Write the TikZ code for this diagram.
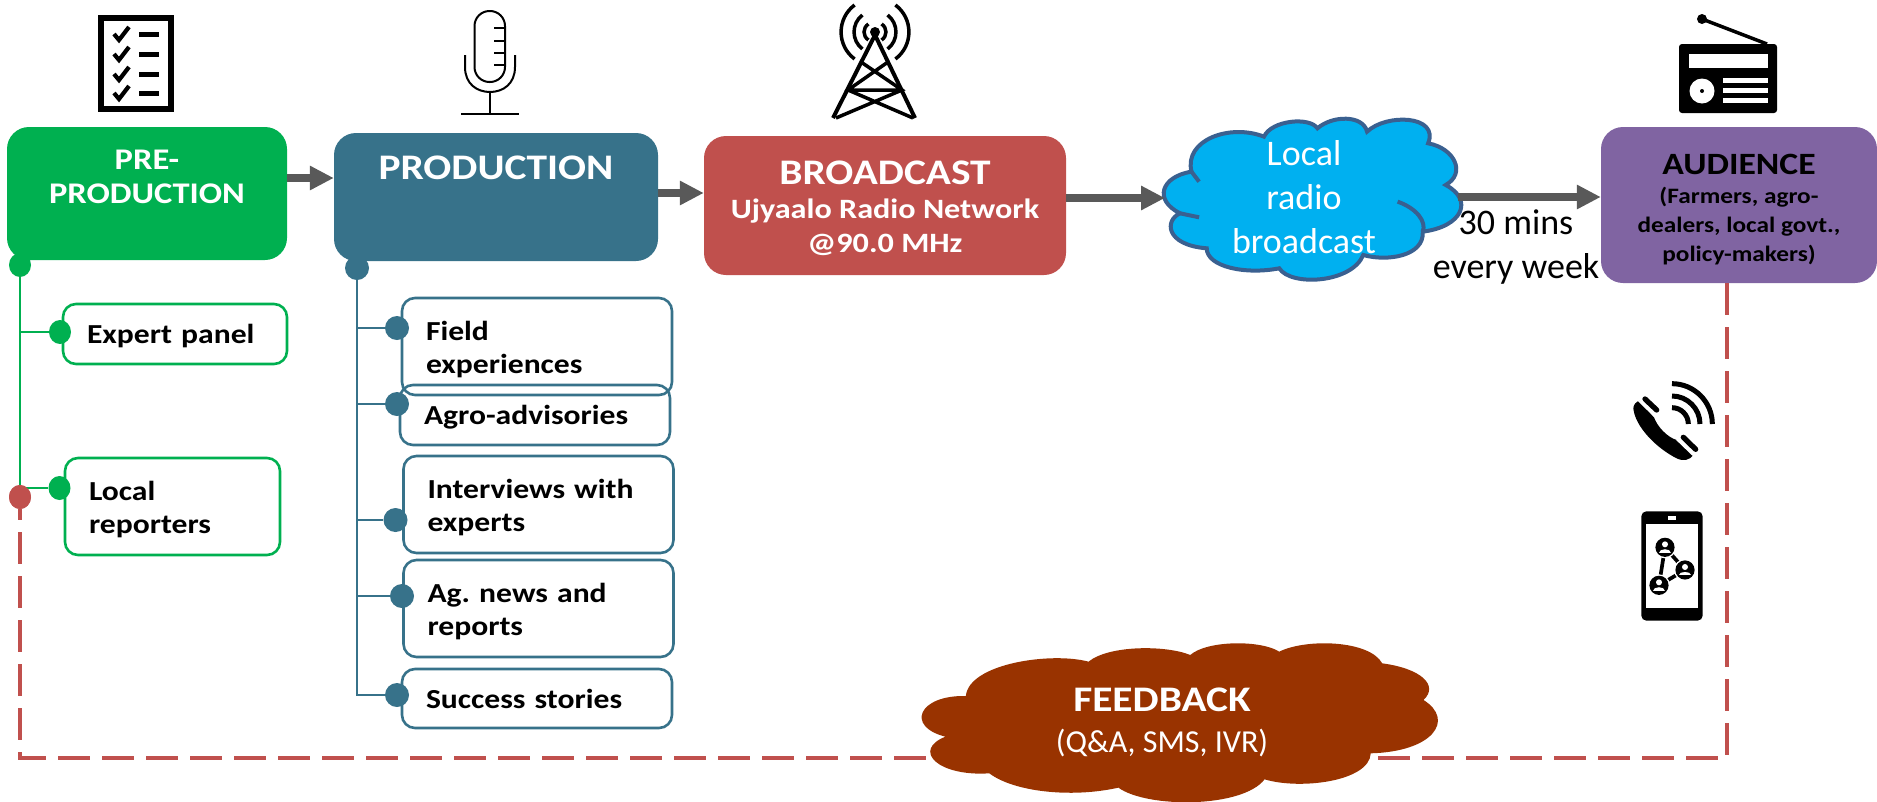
\documentclass[tikz,border=0pt]{standalone}
\usepackage{fontspec}
\usepackage{xcolor}
\usetikzlibrary{arrows.meta,shapes.geometric}
\setmainfont{Carlito}[BoldFeatures={FakeStretch=1.15}]

\definecolor{pregreen}{HTML}{00B050}
\definecolor{prodblue}{HTML}{37728A}
\definecolor{castred}{HTML}{C0504D}
\definecolor{audpurple}{HTML}{8064A2}
\definecolor{skyblue}{HTML}{00B0F0}
\definecolor{cloudedge}{HTML}{3A6090}
\definecolor{feedbrown}{HTML}{993300}
\definecolor{flowgrey}{HTML}{595959}

\tikzset{
  stagebox/.style={rectangle, rounded corners=22pt, inner sep=0pt, align=center, text=white},
  listbox/.style={rectangle, rounded corners=13pt, draw=#1, line width=2.6pt, fill=white, inner ysep=0pt, inner xsep=24pt, align=left,
    execute at end node={\vspace{-6pt}},
    font=\fontsize{27.5}{33.5}\selectfont\bfseries},
  knob/.style={ellipse, fill=#1, inner sep=0pt, minimum width=22pt, minimum height=24pt},
  flowarrow/.style={draw=flowgrey, line width=7.5pt, -{Triangle[length=24pt,width=23pt]}},
  branch/.style={draw=#1, line width=2pt},
  feedbackline/.style={draw=castred, line width=4.2pt, dash pattern=on 32pt off 12pt}
}

\begin{document}
\begin{tikzpicture}[x=1pt,y=-1pt]
  \useasboundingbox (0,0) rectangle (1877,801);

  % Cajas principales
  \node (pre) at (147,193.5) [stagebox, fill=pregreen, minimum width=280pt, minimum height=133pt,
    font=\fontsize{30}{34}\selectfont\bfseries] {PRE-\\PRODUCTION\\\mbox{}};
  \node (prod) at (496,197) [stagebox, fill=prodblue, minimum width=324pt, minimum height=128pt,
    font=\fontsize{36}{58}\selectfont\bfseries] {PRODUCTION\\\mbox{}};
  \node (cast) at (885,205.5) [stagebox, fill=castred, minimum width=362pt, minimum height=139pt,
    font=\fontsize{28}{34}\selectfont\bfseries] {{\fontsize{36}{37}\selectfont\rule{0pt}{30pt}BROADCAST}\\Ujyaalo Radio Network\\@90.0 MHz};
  \node (aud) at (1739,205) [stagebox, text=black, fill=audpurple, minimum width=276pt, minimum height=156pt,
    font=\fontsize{22}{29}\selectfont\bfseries] {{\fontsize{31}{33}\selectfont\rule{0pt}{30pt}AUDIENCE}\\(Farmers, agro-\\dealers, local govt.,\\policy-makers)};

  % Nube azul
  \begin{scope}[shift={(680,0)},x=.7634pt,y=-.3333pt]
    \draw[fill=skyblue, draw=cloudedge, line width=4pt]
      (670,515) .. controls (660,420) and (720,370) .. (765,410)
      .. controls (775,360) and (825,350) .. (835,385)
      .. controls (855,345) and (895,345) .. (900,395)
      .. controls (925,340) and (995,345) .. (980,430)
      .. controls (1015,445) and (1030,520) .. (1003,555)
      .. controls (1040,600) and (1025,680) .. (973,695)
      .. controls (975,770) and (925,785) .. (895,765)
      .. controls (880,850) and (800,860) .. (785,805)
      .. controls (740,825) and (690,800) .. (690,745)
      .. controls (635,735) and (635,660) .. (655,640)
      .. controls (620,600) and (630,530) .. cycle;
    \draw[draw=cloudedge, line width=4pt] (940,605) .. controls (965,625) and (978,665) .. (973,695);
    \draw[draw=cloudedge, line width=4pt] (655,640) -- (680,652);
    \draw[draw=cloudedge, line width=4pt] (670,515) -- (680,545);
  \end{scope}
  \coordinate (cloudwest) at (1165,198);
  \coordinate (cloudeast) at (1458,197);
  \node (radio) at (1304,197) [text=white, align=center, inner sep=0pt, font=\fontsize{36}{44}\selectfont] {Local\\radio\\broadcast};

  % Flechas del flujo
  \draw[flowarrow] ([yshift=15.5pt]pre.east) -- ([yshift=15.5pt]pre.east -| prod.west);
  \draw[flowarrow] ([yshift=4pt]prod.east) -- ([yshift=4pt]prod.east -| cast.west);
  \draw[flowarrow] (cast.east |- cloudwest) -- (cloudwest);
  \draw[flowarrow] (cloudeast) -- (cloudeast -| aud.west);
  \node (every) at (1516,247) [text=black, align=center, inner sep=0pt, font=\fontsize{36}{44}\selectfont] {30 mins\\every week};

  % Ramas de preproduccion
  \node (expert) at (175,334) [listbox=pregreen, text width=176pt, minimum height=60pt] {Expert panel};
  \node (reporters) at (172.5,506.5) [listbox=pregreen, text width=167pt, minimum height=97pt] {Local\\reporters};
  \node (predot) at (20,265) [knob=pregreen] {};
  \node (expertdot) at (60,332) [knob=pregreen] {};
  \node (repdot) at (59.5,488) [knob=pregreen] {};
  \node (feeddot) at (20,497) [knob=castred] {};
  \draw[branch=pregreen] (predot) -- (feeddot);
  \draw[branch=pregreen] (predot |- expertdot) -- (expertdot);
  \draw[branch=pregreen] (predot |- repdot) -- (repdot);
  \node (feedcap) at (feeddot) [knob=castred] {};

  % Ramas de produccion
  \node (field) at (537,346.5) [listbox=prodblue, text width=222pt, minimum height=97pt] {Field\\experiences};
  \node (agro) at (535,415) [listbox=prodblue, fill=none, text width=222pt, minimum height=60pt] {Agro-advisories};
  \node (interviews) at (538.5,504.5) [listbox=prodblue, text width=222pt, minimum height=97pt] {Interviews with\\experts};
  \node (agnews) at (538.5,608.5) [listbox=prodblue, text width=222pt, minimum height=97pt] {Ag.\ news and\\reports};
  \node (success) at (537,698.5) [listbox=prodblue, text width=222pt, minimum height=59pt] {Success stories};
  \node (proddot) at (357,268) [knob=prodblue, minimum width=24pt] {};
  \node (fielddot) at (397,328) [knob=prodblue, minimum width=24pt] {};
  \node (agrodot) at (397,404) [knob=prodblue, minimum width=24pt] {};
  \node (interdot) at (395.5,520) [knob=prodblue, minimum width=24pt] {};
  \node (newsdot) at (402,596) [knob=prodblue, minimum width=24pt] {};
  \node (succdot) at (397,695) [knob=prodblue, minimum width=24pt] {};
  \draw[branch=prodblue] (proddot) |- (succdot);
  \foreach \dotname in {fielddot,agrodot,interdot,newsdot}
    \draw[branch=prodblue] (proddot |- \dotname) -- (\dotname);

  % Linea de retorno y nube marron
  \coordinate (feedcorner) at (1727,758);
  \draw[feedbackline] (feedcorner |- aud.south) -- (feedcorner) -- (feeddot |- feedcorner) -- (feeddot.south);
  \begin{scope}[shift={(880,620)},x=.6357pt,y=-.3333pt]
    \fill[feedbrown]
      (135,228) .. controls (140,130) and (270,95) .. (328,125)
      .. controls (360,75) and (450,75) .. (488,105)
      .. controls (515,60) and (600,60) .. (628,95)
      .. controls (670,55) and (770,60) .. (790,130)
      .. controls (850,145) and (880,195) .. (855,240)
      .. controls (905,300) and (870,395) .. (772,400)
      .. controls (770,485) and (660,510) .. (605,478)
      .. controls (570,565) and (420,565) .. (375,503)
      .. controls (300,535) and (210,515) .. (172,460)
      .. controls (90,470) and (50,390) .. (103,350)
      .. controls (40,320) and (60,225) .. cycle;
  \end{scope}
  \node (feedback) at (1162,722) [text=white, align=center, inner sep=0pt, font=\fontsize{32}{41}\selectfont] {{\fontsize{36}{41}\selectfont\bfseries FEEDBACK}\\(Q\&A, SMS, IVR)};

  % Icono de lista
  \draw[line width=6.5pt] (101,18) rectangle (171,109);
  \foreach \rowy in {34,54,74,93} {
    \draw[line width=4.2pt] (114,\rowy) -- (119,\rowy+6) -- (129,\rowy-7);
    \fill (138.5,\rowy-2.5) rectangle (159,\rowy+2.5);
  }

  % Icono de microfono
  \draw[line width=2pt, rounded corners=15pt] (474.5,11) rectangle (505,82);
  \foreach \micy in {28,41,53,65}
    \draw[line width=2pt] (494,\micy) -- (505,\micy);
  \draw[line width=2pt] (465,55) -- (465,67) .. controls (465,84) and (477,92) .. (490,92) .. controls (503,92) and (515,84) .. (515,67) -- (515,55);
  \draw[line width=2pt] (490,92) -- (490,114);
  \draw[line width=2pt] (461,114) -- (519,114);

  % Icono de antena
  \fill (875,32) circle (5pt);
  \draw[line width=4pt] (833,118) -- (875,35) -- (915,118);
  \draw[line width=3.5pt] (861,62) -- (902,90) -- (836,118) (888,62) -- (848,90) -- (913,118) (848,90) -- (902,90);
  \foreach \rad/\high in {11/8,21/17,34/27} {
    \draw[line width=3.5pt] ({875-\rad*.6},{32-\high}) .. controls ({875-\rad*1.13},{32-\high*.5}) and ({875-\rad*1.13},{32+\high*.5}) .. ({875-\rad*.6},{32+\high});
    \draw[line width=3.5pt] ({875+\rad*.6},{32-\high}) .. controls ({875+\rad*1.13},{32-\high*.5}) and ({875+\rad*1.13},{32+\high*.5}) .. ({875+\rad*.6},{32+\high});
  }

  % Icono de radio
  \fill[rounded corners=3pt] (1679,44) rectangle (1777,113);
  \fill[white] (1689,54) rectangle (1768,68);
  \fill[white] (1702,91) circle (12.5pt);
  \fill (1702,91) circle (2pt);
  \foreach \liney in {78,88,98}
    \fill[white] (1723,\liney) rectangle (1768,\liney+5);
  \draw[line width=3.5pt] (1702,19) -- (1767,44);
  \fill (1702,19) circle (5pt);

  % Iconos de telefono
  \begin{scope}[shift={(1580,360)},x=.3333pt,y=-.3333pt]
    \fill (178,122) -- (222,172) .. controls (232,200) and (262,232) .. (290,240) -- (340,285)
      .. controls (330,300) and (310,305) .. (290,295) .. controls (230,265) and (165,200) .. (160,145)
      .. controls (160,135) and (168,125) .. cycle;
    \draw[line width=5.3pt, line cap=round] (195,117) -- (230,150);
    \draw[line width=5.3pt, line cap=round] (310,232) -- (347,268);
    \draw[white, line width=1.7pt] (172,118) -- (225,170);
    \draw[white, line width=1.7pt] (290,238) -- (342,288);
    \foreach \rad in {49,84,121}
      \draw[line width=5pt] (276,{192-\rad}) .. controls ({276+\rad*.55},{192-\rad}) and ({276+\rad},{192-\rad*.55}) .. ({276+\rad},192);

    \fill[rounded corners=5pt] (184,454) rectangle (368,782);
    \fill[white] (198,493) rectangle (355,743);
    \fill[white] (264,467) rectangle (288,479);
    \draw[line width=3.7pt] (255,562) -- (315,630) -- (237,676) -- cycle;
    \foreach \px/\py in {255/562,315/630,237/676} {
      \fill[white] (\px,\py) circle (11pt);
      \fill (\px,\py) circle (9.6pt);
      \fill[white] ({\px},{\py-9}) circle (3pt);
      \fill[white] ({\px-17},{\py+16}) .. controls ({\px-17},{\py+2}) and ({\px+17},{\py+2}) .. ({\px+17},{\py+16}) -- cycle;
    }
  \end{scope}
\end{tikzpicture}
\end{document}
